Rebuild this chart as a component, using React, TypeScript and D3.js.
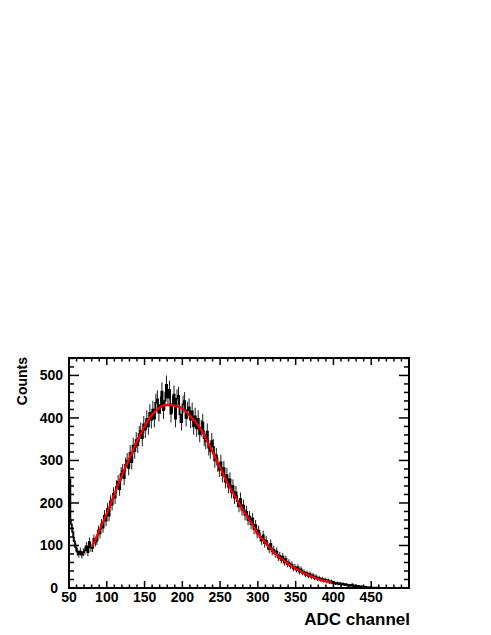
import React, { useEffect, useRef } from "react";
import * as d3 from "d3";

// histogram: 2-channel bins starting at ADC 50
const binStart = 50;
const binWidth = 2;
const counts: number[] = [
  255, 150, 132, 110, 96, 85, 80, 86, 78, 84, 88, 98, 84, 108, 95,
  94, 115, 108, 112, 135, 128, 150, 142, 170, 158,
  186, 170, 204, 196, 222, 212, 238, 250, 232, 268,
  275, 258, 290, 300, 282, 318, 296, 335, 322, 348,
  336, 362, 370, 352, 385, 372, 398, 380, 412, 395,
  420, 398, 436, 444, 412, 430, 462, 418, 440, 478,
  448, 466, 410, 432, 455, 398, 446, 452, 408, 390,
  432, 440, 400, 418, 425, 396, 416, 380, 404, 375,
  398, 362, 376, 390, 352, 345, 368, 330, 322, 346,
  332, 300, 312, 290, 278, 296, 265, 282, 250, 266,
  238, 256, 226, 240, 212, 225, 204, 192, 210, 184,
  194, 172, 180, 160, 168, 150, 164, 138, 148, 128,
  135, 120, 112, 124, 105, 112, 100, 92, 104, 86,
  90, 80, 86, 72, 76, 66, 74, 60, 68, 56,
  60, 52, 55, 46, 50, 43, 49, 38, 44, 36,
  38, 31, 35, 28, 33, 26, 30, 23, 27, 21,
  24, 19, 22, 17, 20, 15, 18, 13, 16, 12,
  13, 10, 12, 9, 11, 8, 10, 7, 9, 6,
  7, 5, 8, 4, 6, 4, 5, 2, 4, 3,
  2, 3, 1, 2, 2, 1, 1, 0, 1, 1,
  0, 0, 0, 0, 0, 0, 0, 0, 0, 0,
  0, 0, 0, 0, 0, 0, 0, 0, 0, 0,
];

// fitted curve
const fitChannels = [81, 90, 100, 110, 120, 130, 140, 150, 160, 170, 180, 190, 200, 210, 220, 230, 240, 250, 260, 270, 280, 290, 300, 310, 320, 330, 340, 350, 360, 370, 380, 390, 397];
const fitValues = [98, 135, 175, 220, 265, 305, 345, 380, 408, 424, 431, 429, 422, 405, 385, 356, 320, 283, 246, 215, 184, 157, 128, 107, 87, 70, 57, 46, 36, 28, 21, 16, 13];

const xMajor = [50, 100, 150, 200, 250, 300, 350, 400, 450];
const yMajor = [0, 100, 200, 300, 400, 500];

const FONT = "'Liberation Sans', Arial, Helvetica, sans-serif";

export default function App() {
  const ref = useRef<SVGSVGElement | null>(null);

  useEffect(() => {
    if (!ref.current) return;
    const svg = d3.select(ref.current);
    svg.selectAll("*").remove();

    const W = 491;
    const H = 635;
    const frame = { left: 69, right: 409, top: 358, bottom: 588 };

    const x = d3.scaleLinear().domain([50, 500]).range([frame.left, frame.right]);
    const y = d3.scaleLinear().domain([0, 541]).range([frame.bottom, frame.top]);

    svg.append("rect").attr("width", W).attr("height", H).attr("fill", "white");

    svg
      .append("clipPath")
      .attr("id", "plotclip")
      .append("rect")
      .attr("x", frame.left)
      .attr("y", frame.top)
      .attr("width", frame.right - frame.left)
      .attr("height", frame.bottom - frame.top);

    const plot = svg.append("g").attr("clip-path", "url(#plotclip)");

    // histogram outline
    const steps: [number, number][] = [[binStart, 0]];
    counts.forEach((c, i) => steps.push([binStart + i * binWidth, c]));
    steps.push([binStart + counts.length * binWidth, counts[counts.length - 1]]);
    const stepLine = d3
      .line<[number, number]>()
      .x((d) => x(d[0]))
      .y((d) => y(d[1]))
      .curve(d3.curveStepAfter);
    plot
      .append("path")
      .attr("d", stepLine(steps))
      .attr("fill", "none")
      .attr("stroke", "black")
      .attr("stroke-width", 1.5);

    // statistical error bars (sqrt N)
    plot
      .selectAll(".err")
      .data(counts.map((c, i) => ({ c, ch: binStart + (i + 0.5) * binWidth })).filter((d) => d.c > 0))
      .enter()
      .append("line")
      .attr("class", "err")
      .attr("x1", (d) => x(d.ch))
      .attr("x2", (d) => x(d.ch))
      .attr("y1", (d) => y(d.c - Math.sqrt(d.c)))
      .attr("y2", (d) => y(d.c + Math.sqrt(d.c)))
      .attr("stroke", "black")
      .attr("stroke-width", 0.9);

    // fit
    const fitLine = d3
      .line<number>()
      .x((_, i) => x(fitChannels[i]))
      .y((d) => y(d))
      .curve(d3.curveMonotoneX);
    plot
      .append("path")
      .attr("d", fitLine(fitValues))
      .attr("fill", "none")
      .attr("stroke", "#ff0000")
      .attr("stroke-width", 2.3);

    // ticks on all four sides, pointing inward
    const ticks = svg.append("g").attr("stroke", "black").attr("stroke-width", 1.5);
    const xMinor = d3.range(60, 500, 10).filter((v) => v % 50 !== 0);
    const yMinor = d3.range(20, 541, 20).filter((v) => v % 100 !== 0);
    const xTick = (v: number, len: number) => {
      ticks.append("line").attr("x1", x(v)).attr("x2", x(v)).attr("y1", frame.bottom).attr("y2", frame.bottom - len);
      ticks.append("line").attr("x1", x(v)).attr("x2", x(v)).attr("y1", frame.top).attr("y2", frame.top + len);
    };
    const yTick = (v: number, len: number) => {
      ticks.append("line").attr("x1", frame.left).attr("x2", frame.left + len).attr("y1", y(v)).attr("y2", y(v));
      ticks.append("line").attr("x1", frame.right).attr("x2", frame.right - len).attr("y1", y(v)).attr("y2", y(v));
    };
    xMajor.forEach((v) => xTick(v, 7));
    xMinor.forEach((v) => xTick(v, 3.5));
    yMajor.forEach((v) => yTick(v, 10));
    yMinor.forEach((v) => yTick(v, 5));

    // frame
    svg
      .append("rect")
      .attr("x", frame.left)
      .attr("y", frame.top)
      .attr("width", frame.right - frame.left)
      .attr("height", frame.bottom - frame.top)
      .attr("fill", "none")
      .attr("stroke", "black")
      .attr("stroke-width", 2);

    // tick labels
    svg
      .selectAll(".xl")
      .data(xMajor)
      .enter()
      .append("text")
      .attr("x", (d) => x(d))
      .attr("y", 602)
      .attr("text-anchor", "middle")
      .attr("font-family", FONT)
      .attr("font-weight", "bold")
      .attr("font-size", 14)
      .text((d) => d);

    svg
      .selectAll(".yl")
      .data(yMajor)
      .enter()
      .append("text")
      .attr("x", (d) => (d === 0 ? 58 : 63))
      .attr("y", (d) => y(d) + 5)
      .attr("text-anchor", "end")
      .attr("font-family", FONT)
      .attr("font-weight", "bold")
      .attr("font-size", 14)
      .text((d) => d);

    // axis titles
    svg
      .append("text")
      .attr("x", 410)
      .attr("y", 625)
      .attr("text-anchor", "end")
      .attr("font-family", FONT)
      .attr("font-weight", "bold")
      .attr("font-size", 17)
      .text("ADC channel");

    svg
      .append("text")
      .attr("transform", "translate(26.5,357) rotate(-90)")
      .attr("text-anchor", "end")
      .attr("font-family", FONT)
      .attr("font-weight", "bold")
      .attr("font-size", 14)
      .text("Counts");
  }, []);

  return (
    <svg
      ref={ref}
      width={491}
      height={635}
      style={{ position: "fixed", left: 0, top: 0, display: "block" }}
    />
  );
}
